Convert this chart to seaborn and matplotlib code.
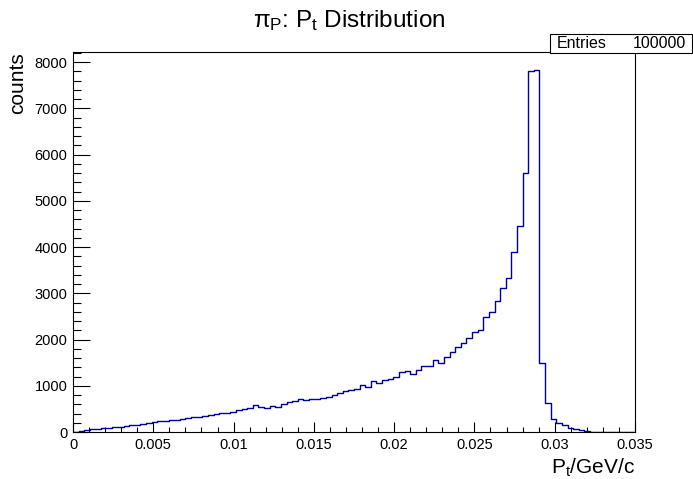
import numpy as np
import pandas as pd
import matplotlib
matplotlib.use("Agg")
import matplotlib.pyplot as plt
import seaborn as sns
from matplotlib.patches import Rectangle
from matplotlib.ticker import MultipleLocator

# 100 bins between 0 and 0.035 GeV/c
n_bins = 100
pt_min, pt_max = 0.0, 0.035
counts = [8, 22, 38, 55, 68, 80, 95, 110, 118, 130,
          142, 160, 170, 185, 210, 228, 245, 255, 268, 282,
          300, 318, 332, 350, 365, 380, 405, 420, 440, 468,
          495, 530, 575, 547, 526, 562, 547, 605, 649, 670,
          713, 685, 713, 720, 742, 757, 800, 850, 880, 908,
          937, 1016, 980, 1103, 1053, 1124, 1146, 1196, 1297, 1319,
          1254, 1340, 1434, 1434, 1557, 1485, 1615, 1730, 1845, 1930,
          2040, 2155, 2210, 2495, 2600, 2840, 3105, 3340, 3885, 4450,
          5605, 7810, 7830, 1485, 625, 278, 190, 145, 88, 58,
          42, 22, 8, 3, 0, 0, 0, 0, 0, 0]
xtick_vals = [0, 0.005, 0.01, 0.015, 0.02, 0.025, 0.03, 0.035]
xtick_labels = ["0", "0.005", "0.01", "0.015", "0.02", "0.025", "0.03", "0.035"]
ytick_vals = [0, 1000, 2000, 3000, 4000, 5000, 6000, 7000, 8000]
entries = 100000

edges = np.linspace(pt_min, pt_max, n_bins + 1)
centers = 0.5 * (edges[:-1] + edges[1:])
df = pd.DataFrame({"pt": centers, "counts": counts})

sns.set_style("ticks")
plt.rcParams["font.family"] = ["Liberation Sans", "DejaVu Sans"]
plt.rcParams["mathtext.fontset"] = "custom"
plt.rcParams["mathtext.rm"] = "Liberation Sans"
plt.rcParams["mathtext.it"] = "Liberation Sans"
for k in ["text.color", "axes.labelcolor", "xtick.color", "ytick.color", "axes.edgecolor"]:
    plt.rcParams[k] = "black"

W, H = 693, 479
fig = plt.figure(figsize=(6.93, 4.79), dpi=100)
ax = fig.add_axes([73 / W, 1 - 432 / H, 562 / W, 380 / H])

sns.histplot(data=df, x="pt", weights="counts", bins=n_bins, binrange=(pt_min, pt_max),
             element="step", fill=False, color="#000099", linewidth=1.0, ax=ax)

ax.set_xlim(pt_min, pt_max)
ax.set_ylim(0, 1.05 * max(counts))
ax.set_xticks(xtick_vals)
ax.set_xticklabels(xtick_labels)
ax.set_yticks(ytick_vals)
ax.set_yticklabels([str(v) for v in ytick_vals])
ax.xaxis.set_minor_locator(MultipleLocator(0.001))
ax.yaxis.set_minor_locator(MultipleLocator(200))
ax.tick_params(axis="x", which="major", direction="in", length=7.2, width=0.8,
               labelsize=10.5, pad=4, top=False)
ax.tick_params(axis="x", which="minor", direction="in", length=3.6, width=0.8, top=False)
ax.tick_params(axis="y", which="major", direction="in", length=12, width=0.8,
               labelsize=10.5, pad=4, right=False)
ax.tick_params(axis="y", which="minor", direction="in", length=6, width=0.8, right=False)
for s in ax.spines.values():
    s.set_linewidth(0.8)
    s.set_color("black")

ax.set_xlabel(r"P$_{\rm t}$/GeV/c", loc="right", fontsize=15)
ax.xaxis.set_label_coords(1.0, -0.065)
ax.xaxis.label.set_va("top")
ax.set_ylabel("counts", loc="top", fontsize=15)
ax.yaxis.set_label_coords(-0.082, 1.0)

fig.text(349.5 / W, 1 - 26.7 / H, r"$\pi_{\rm P}$: P$_{\rm t}$ Distribution", ha="center",
         va="baseline", fontsize=17.5)

# stats box
fig.patches.append(Rectangle((550 / W, 1 - 53 / H), 142 / W, 19 / H,
                             transform=fig.transFigure, facecolor="white",
                             edgecolor="black", linewidth=0.8, zorder=5))
fig.text(557 / W, 1 - 43.5 / H, "Entries", ha="left", va="center", fontsize=11.5, zorder=6)
fig.text(686 / W, 1 - 43.5 / H, str(entries), ha="right", va="center", fontsize=11.5, zorder=6)

fig.savefig("out.png", dpi=100)
